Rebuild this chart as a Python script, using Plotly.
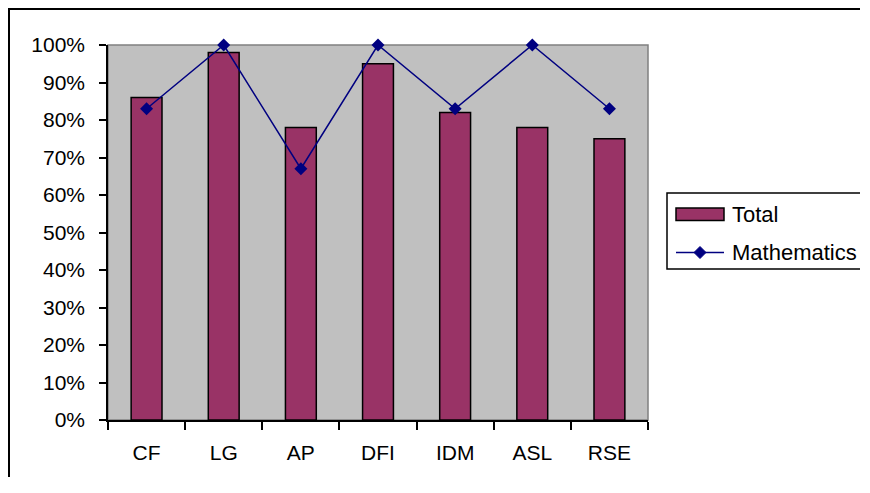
import plotly.graph_objects as go

categories = ["CF", "LG", "AP", "DFI", "IDM", "ASL", "RSE"]
total = [0.86, 0.98, 0.78, 0.95, 0.82, 0.78, 0.75]
mathematics = [0.83, 1.00, 0.67, 1.00, 0.83, 1.00, 0.83]
y_ticks = [i / 10 for i in range(11)]
series_names = ["Total", "Mathematics"]

FONT = "Liberation Sans, Arial, sans-serif"
BAR_COLOR = "#993366"
LINE_COLOR = "#000080"

W, H = 852, 469
L, R, T, B = 100, 212, 37, 57
PW, PH = W - L - R, H - T - B


def px(x):  # figure pixel -> paper x
    return (x - L) / PW


def py(y):  # figure pixel -> paper y
    return (H - B - y) / PH


fig = go.Figure()
fig.add_trace(go.Bar(
    x=categories, y=total, name=series_names[0],
    marker=dict(color=BAR_COLOR, line=dict(color="black", width=1.5)),
    width=0.4, showlegend=False,
))
fig.add_trace(go.Scatter(
    x=categories, y=mathematics, name=series_names[1], mode="lines+markers",
    line=dict(color=LINE_COLOR, width=1.5),
    marker=dict(symbol="diamond", size=10, color=LINE_COLOR),
    cliponaxis=False, showlegend=False,
))

# legend (drawn as Excel-style box running off the right edge)
lx0, ly0, ly1 = 659, 185, 261
r_y0, r_y1 = 200, 212.5
sym_x0, sym_x1 = 668, 716
line_y = 244.5
dcx, dr = (sym_x0 + sym_x1) / 2, 6
EDGE = W

shapes = [
    dict(type="rect", xref="paper", yref="paper", x0=0, x1=1, y0=0, y1=1,
         line=dict(color="#808080", width=1.5), layer="below"),
    # outer chart frame: top and left edges only
    dict(type="path", xref="paper", yref="paper",
         path=f"M{px(EDGE)},{py(1)} L{px(1)},{py(1)} L{px(1)},{py(H)}",
         line=dict(color="black", width=2)),
    # legend box
    dict(type="rect", xref="paper", yref="paper", x0=px(lx0), x1=px(EDGE), y0=py(ly1), y1=py(ly0),
         line=dict(width=0), fillcolor="white"),
    dict(type="path", xref="paper", yref="paper",
         path=f"M{px(EDGE)},{py(ly0)} L{px(lx0)},{py(ly0)} L{px(lx0)},{py(ly1)} L{px(EDGE)},{py(ly1)}",
         line=dict(color="black", width=1.5)),
    dict(type="rect", xref="paper", yref="paper", x0=px(sym_x0), x1=px(sym_x1), y0=py(r_y1), y1=py(r_y0),
         line=dict(color="black", width=1.5), fillcolor=BAR_COLOR),
    dict(type="line", xref="paper", yref="paper", x0=px(sym_x0), x1=px(sym_x1), y0=py(line_y), y1=py(line_y),
         line=dict(color=LINE_COLOR, width=1.5)),
    dict(type="path", xref="paper", yref="paper",
         path=(f"M{px(dcx - dr)},{py(line_y)} L{px(dcx)},{py(line_y - dr)} "
               f"L{px(dcx + dr)},{py(line_y)} L{px(dcx)},{py(line_y + dr)} Z"),
         line=dict(color=LINE_COLOR, width=1), fillcolor=LINE_COLOR),
]

annotations = [
    dict(xref="paper", yref="paper", x=px(722), y=py((r_y0 + r_y1) / 2), text=series_names[0],
         showarrow=False, xanchor="left", yanchor="middle", font=dict(size=22)),
    dict(xref="paper", yref="paper", x=px(722), y=py(line_y), text=series_names[1],
         showarrow=False, xanchor="left", yanchor="middle", font=dict(size=22)),
]

fig.update_layout(
    width=W, height=H,
    margin=dict(l=L, r=R, t=T, b=B, autoexpand=False),
    paper_bgcolor="white",
    plot_bgcolor="#C0C0C0",
    font=dict(family=FONT, size=21, color="black"),
    shapes=shapes,
    annotations=annotations,
    showlegend=False,
)
fig.update_xaxes(
    type="category", showgrid=False,
    showline=True, linecolor="black", linewidth=1.5,
    ticks="outside", tickson="boundaries", ticklen=8, tickcolor="black", tickwidth=1.5,
    ticklabelstandoff=13,
)
fig.update_yaxes(
    range=[0, 1], tickvals=y_ticks, tickformat=".0%", showgrid=False, zeroline=False,
    showline=True, linecolor="black", linewidth=1.5,
    ticks="outside", ticklen=7, tickcolor="black", tickwidth=1.5,
    ticklabelstandoff=10,
)

fig.write_html("out.html")
